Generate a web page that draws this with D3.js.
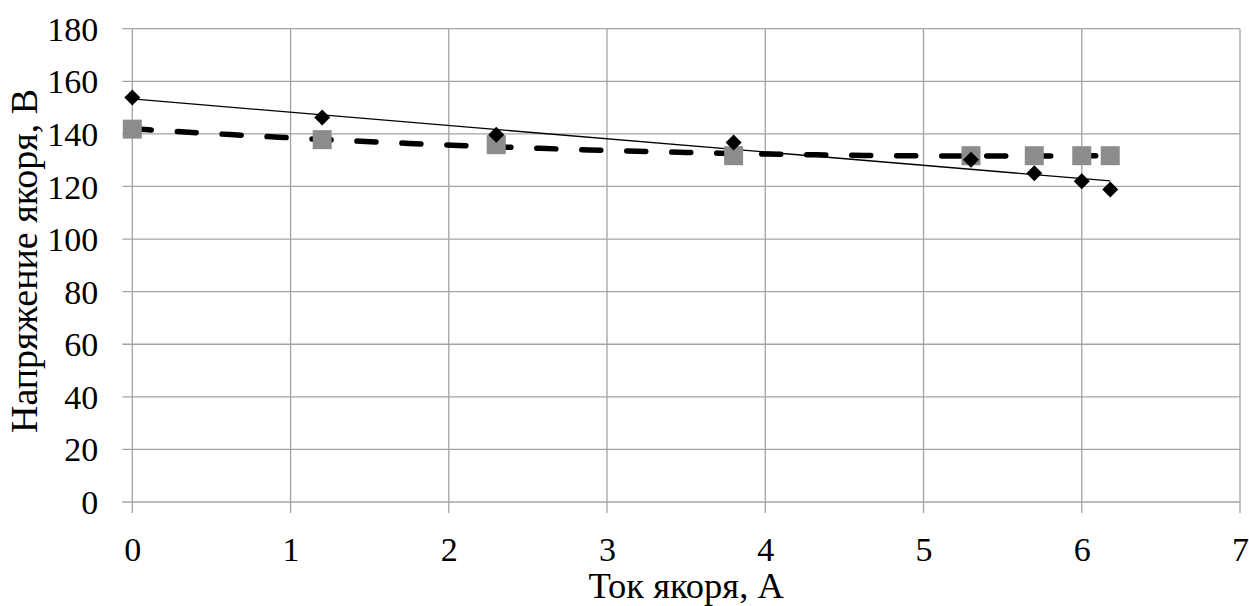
<!DOCTYPE html>
<html>
<head>
<meta charset="utf-8">
<script src="https://cdn.jsdelivr.net/npm/d3@7"></script>
<style>
body { margin: 0; background: #fff; }
svg text { font-family: "Liberation Serif", "Times New Roman", Tinos, "DejaVu Serif", serif; fill: #000; }
</style>
</head>
<body>
<div id="container"></div>
<script>
// measured data
var current = [0, 1.2, 2.3, 3.8, 5.3, 5.7, 6.0, 6.18];
var voltageExp = [153.8, 146.2, 139.7, 136.7, 130.2, 125.0, 122.0, 118.8];
var voltageCalc = [141.8, 137.8, 135.9, 131.7, 131.7, 131.7, 131.7, 131.7];
var xTicks = [0, 1, 2, 3, 4, 5, 6, 7];
var yTicks = [0, 20, 40, 60, 80, 100, 120, 140, 160, 180];

var W = 1249, H = 606;
var margin = {top: 28.7, right: 9, bottom: 104, left: 132.3};
var width = W - margin.left - margin.right,
	height = H - margin.top - margin.bottom;
var fontSize = "34px";

var svg = d3.select("#container").append("svg")
	.attr("width", W)
	.attr("height", H);

var g = svg.append("g")
	.attr("transform", "translate(" + margin.left + "," + margin.top + ")");

var x = d3.scaleLinear().domain([0, 7]).range([0, width]);
var y = d3.scaleLinear().domain([0, 180]).range([height, 0]);

// grid
g.append("g")
	.attr("class", "grid")
	.selectAll("line.h").data(yTicks).enter()
	.append("line")
	.attr("x1", -10).attr("x2", width)
	.attr("y1", function(d) { return y(d); })
	.attr("y2", function(d) { return y(d); });

g.select(".grid")
	.selectAll("line.v").data(xTicks).enter()
	.append("line")
	.attr("y1", 0).attr("y2", height + 11)
	.attr("x1", function(d) { return x(d); })
	.attr("x2", function(d) { return x(d); });

g.selectAll(".grid line")
	.attr("stroke", "#a3a3a3")
	.attr("stroke-width", 1.3);

// axes (labels only, lines drawn with grid)
var xAxis = d3.axisBottom(x).tickValues(xTicks).tickFormat(d3.format("d")).tickSize(0).tickPadding(0);
var yAxis = d3.axisLeft(y).tickValues(yTicks).tickFormat(d3.format("d")).tickSize(0).tickPadding(0);

var gx = g.append("g")
	.attr("transform", "translate(0," + height + ")")
	.call(xAxis)
	.attr("font-family", null)
	.attr("font-size", null);
gx.select(".domain").remove();
gx.selectAll("text")
	.attr("y", 59)
	.attr("dy", 0)
	.style("font-size", fontSize);

var gy = g.append("g").call(yAxis)
	.attr("font-family", null)
	.attr("font-size", null);
gy.select(".domain").remove();
gy.selectAll("text")
	.attr("x", -34)
	.attr("dy", "0.34em")
	.style("font-size", fontSize);

// axis titles
svg.append("text")
	.attr("x", margin.left + width / 2)
	.attr("y", 598)
	.attr("text-anchor", "middle")
	.style("font-size", "36.5px")
	.text("Ток якоря, А");

svg.append("text")
	.attr("transform", "translate(37,261) rotate(-90)")
	.attr("text-anchor", "middle")
	.style("font-size", "38px")
	.text("Напряжение якоря, В");

// trend lines: linear for measured, 2nd order polynomial for calculated
function linFit(xs, ys) {
	var mx = d3.mean(xs), my = d3.mean(ys), sxy = 0, sxx = 0;
	xs.forEach(function(v, i) { sxy += (v - mx) * (ys[i] - my); sxx += (v - mx) * (v - mx); });
	var b = sxy / sxx;
	return function(v) { return my + b * (v - mx); };
}

function quadFit(xs, ys) {
	// normal equations for a + b x + c x^2
	var s = [0, 0, 0, 0, 0], t = [0, 0, 0];
	xs.forEach(function(v, i) {
		for (var k = 0; k < 5; k++) s[k] += Math.pow(v, k);
		for (var k = 0; k < 3; k++) t[k] += ys[i] * Math.pow(v, k);
	});
	var A = [[s[0], s[1], s[2], t[0]], [s[1], s[2], s[3], t[1]], [s[2], s[3], s[4], t[2]]];
	for (var i = 0; i < 3; i++) {
		for (var j = i + 1; j < 3; j++) {
			var f = A[j][i] / A[i][i];
			for (var k = i; k < 4; k++) A[j][k] -= f * A[i][k];
		}
	}
	var c = [0, 0, 0];
	for (var i = 2; i >= 0; i--) {
		var sum = A[i][3];
		for (var k = i + 1; k < 3; k++) sum -= A[i][k] * c[k];
		c[i] = sum / A[i][i];
	}
	return function(v) { return c[0] + c[1] * v + c[2] * v * v; };
}

var xMin = d3.min(current), xMax = d3.max(current);
var fLin = linFit(current, voltageExp);
var fQuad = quadFit(current, voltageCalc);
var steps = d3.range(0, 61).map(function(i) { return xMin + (xMax - xMin) * i / 60; });

var line = d3.line()
	.x(function(d) { return x(d[0]); })
	.y(function(d) { return y(d[1]); });

g.append("path")
	.attr("d", line(steps.map(function(v) { return [v, fQuad(v)]; })))
	.attr("fill", "none")
	.attr("stroke", "#000")
	.attr("stroke-width", 5.5)
	.attr("stroke-linecap", "round")
	.attr("stroke-dasharray", "19,26");

g.append("path")
	.attr("d", line([[xMin, fLin(xMin)], [xMax, fLin(xMax)]]))
	.attr("fill", "none")
	.attr("stroke", "#000")
	.attr("stroke-width", 1.3);

// markers
var sq = 19;
g.selectAll(".sq").data(current).enter()
	.append("rect")
	.attr("class", "sq")
	.attr("x", function(d) { return x(d) - sq / 2; })
	.attr("y", function(d, i) { return y(voltageCalc[i]) - sq / 2; })
	.attr("width", sq)
	.attr("height", sq)
	.attr("fill", "#8c8c8c");

var dm = 8;
g.selectAll(".dm").data(current).enter()
	.append("path")
	.attr("class", "dm")
	.attr("d", function(d, i) {
		var cx = x(d), cy = y(voltageExp[i]);
		return "M" + cx + "," + (cy - dm) + "L" + (cx + dm) + "," + cy + "L" + cx + "," + (cy + dm) + "L" + (cx - dm) + "," + cy + "Z";
	})
	.attr("fill", "#000");
</script>
</body>
</html>
